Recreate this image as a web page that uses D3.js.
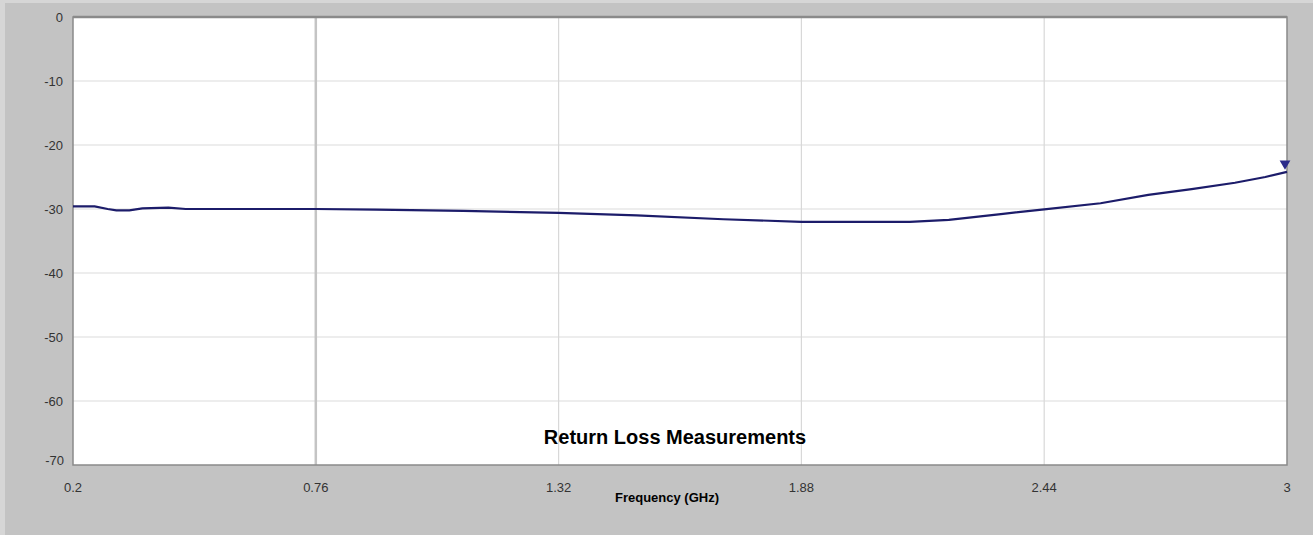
<!DOCTYPE html>
<html>
<head>
<meta charset="utf-8">
<script src="https://cdn.jsdelivr.net/npm/d3@7"></script>
<style>
  html, body { margin: 0; padding: 0; background: #c3c3c3; }
  svg { display: block; }
</style>
</head>
<body>
<svg id="chart" width="1313" height="535"></svg>
<script>
// ---- data ----
const freqGHz = [0.2, 0.25, 0.28, 0.3, 0.33, 0.36, 0.42, 0.46, 0.6, 0.76, 0.9, 1.1, 1.32, 1.5, 1.7, 1.88, 2.0, 2.13, 2.22, 2.34, 2.44, 2.57, 2.68, 2.78, 2.88, 2.95, 3.0];
const returnLossDb = [-29.6, -29.6, -30.0, -30.2, -30.2, -29.9, -29.8, -30.0, -30.0, -30.0, -30.1, -30.3, -30.6, -31.0, -31.6, -32.0, -32.0, -32.0, -31.7, -30.8, -30.05, -29.1, -27.8, -26.9, -25.9, -25.0, -24.2];
const xTicks = [0.2, 0.76, 1.32, 1.88, 2.44, 3];
const xTickLabels = ["0.2", "0.76", "1.32", "1.88", "2.44", "3"];
const yTicks = [0, -10, -20, -30, -40, -50, -60, -70];
const markerFreq = [3.0];
const markerDb = [-22.9];
const chartTitle = "Return Loss Measurements";
const xTitle = "Frequency (GHz)";

// ---- layout ----
const svg = d3.select("#chart");
const L = 73, R = 1287, T = 17, B = 465;
const x = d3.scaleLinear().domain([0.2, 3]).range([L, R]);
const y = d3.scaleLinear().domain([-70, 0]).range([B, T]);
const fontFam = "'Liberation Sans Narrow', 'Liberation Sans', Arial, sans-serif";

// outer light edges
svg.append("rect").attr("x", 0).attr("y", 0).attr("width", 1313).attr("height", 535).attr("fill", "#c3c3c3");
svg.append("rect").attr("x", 0).attr("y", 0).attr("width", 5).attr("height", 535).attr("fill", "#d6d6d6");
svg.append("rect").attr("x", 0).attr("y", 0).attr("width", 1313).attr("height", 3).attr("fill", "#d6d6d6");

// plot area
svg.append("rect").attr("x", L).attr("y", T).attr("width", R - L).attr("height", B - T).attr("fill", "#ffffff");

// horizontal grid
svg.append("g").selectAll("line").data(yTicks.filter(d => d !== 0 && d !== -70)).join("line")
  .attr("x1", L).attr("x2", R)
  .attr("y1", d => y(d)).attr("y2", d => y(d))
  .attr("stroke", "#dcdcdc").attr("stroke-width", 1.2);

// vertical grid
svg.append("g").selectAll("line").data(xTicks.filter(d => d !== 0.2 && d !== 3)).join("line")
  .attr("x1", d => x(d)).attr("x2", d => x(d))
  .attr("y1", T).attr("y2", B)
  .attr("stroke", (d, i) => i === 0 ? "#c4c4c4" : "#d8d8d8")
  .attr("stroke-width", (d, i) => i === 0 ? 2.5 : 1.2);

// border
svg.append("rect").attr("x", L).attr("y", T).attr("width", R - L).attr("height", B - T)
  .attr("fill", "none").attr("stroke", "#8a8a8a").attr("stroke-width", 1.5);
svg.append("line").attr("x1", L).attr("x2", R).attr("y1", T).attr("y2", T)
  .attr("stroke", "#8a8a8a").attr("stroke-width", 2.5);

// y tick labels
svg.append("g").selectAll("text").data(yTicks).join("text")
  .attr("x", d => d === -70 ? 64 : 63)
  .attr("y", d => d === -70 ? y(d) + 0 : y(d) + 5)
  .attr("text-anchor", "end")
  .attr("font-family", fontFam).attr("font-size", 13)
  .attr("fill", "#333")
  .text(d => d);

// x tick labels
svg.append("g").selectAll("text").data(xTicks).join("text")
  .attr("x", d => x(d))
  .attr("y", 492)
  .attr("text-anchor", "middle")
  .attr("font-family", fontFam).attr("font-size", 13)
  .attr("fill", "#333")
  .text((d, i) => xTickLabels[i]);

// data line
const line = d3.line().x((d, i) => x(freqGHz[i])).y(d => y(d));
svg.append("path").datum(returnLossDb)
  .attr("d", line)
  .attr("fill", "none").attr("stroke", "#1c1c6a").attr("stroke-width", 2.2);

// marker
svg.append("g").selectAll("path").data(markerDb).join("path")
  .attr("d", d3.symbol().type(d3.symbolTriangle).size(50))
  .attr("transform", (d, i) => `translate(${x(markerFreq[i]) - 2},${y(d)}) rotate(180)`)
  .attr("fill", "#2a2a8a");

// titles
svg.append("text").attr("x", 675).attr("y", 444)
  .attr("text-anchor", "middle")
  .attr("font-family", "'Liberation Sans', Arial, sans-serif")
  .attr("font-weight", "bold").attr("font-size", 20)
  .attr("fill", "#000").text(chartTitle);

svg.append("text").attr("x", 667).attr("y", 502)
  .attr("text-anchor", "middle")
  .attr("font-family", "'Liberation Sans', Arial, sans-serif")
  .attr("font-weight", "bold").attr("font-size", 13)
  .attr("fill", "#000").text(xTitle);
</script>
</body>
</html>
